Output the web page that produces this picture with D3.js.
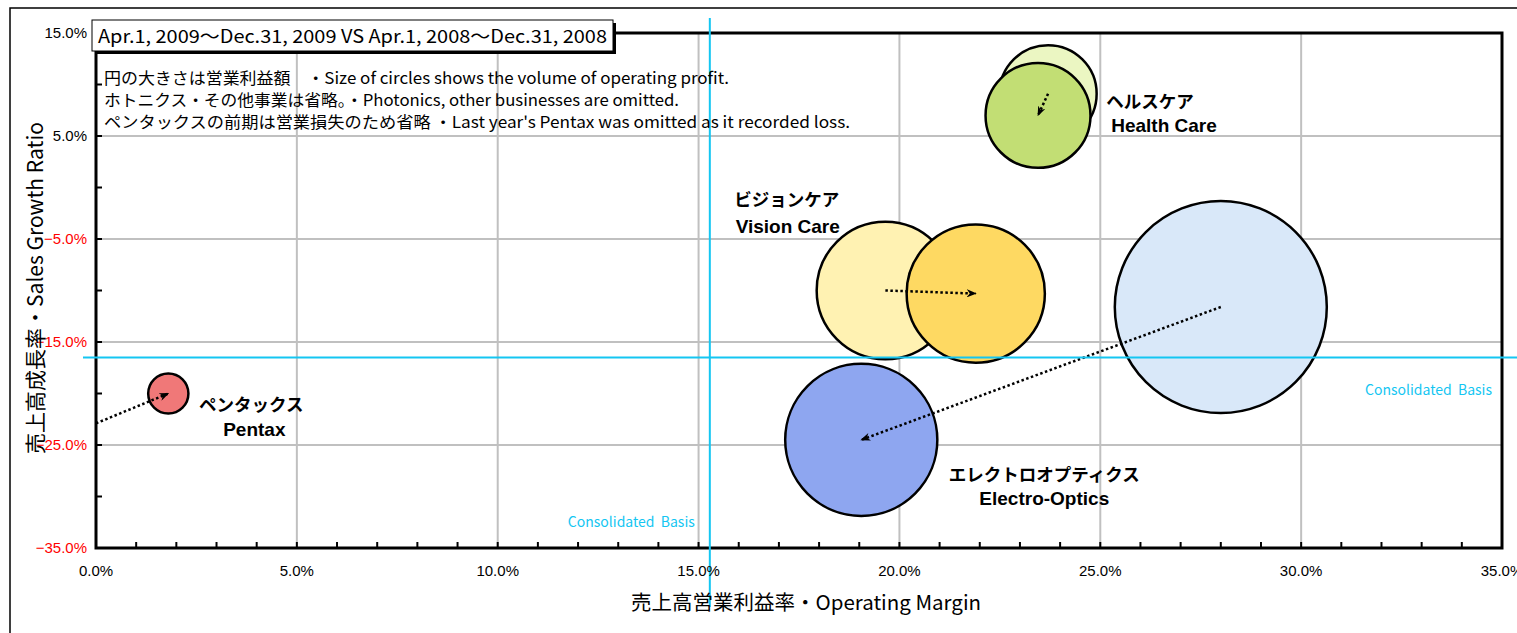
<!DOCTYPE html>
<html>
<head>
<meta charset="utf-8">
<script src="https://cdn.jsdelivr.net/npm/d3@7"></script>
<style>
  body { margin: 0; background: #fff; }
  svg { display: block; }
  text { font-family: "Noto Sans CJK JP", "Noto Sans", sans-serif; }
  .tick-lbl { font-family: "Liberation Sans Narrow", "Liberation Sans", sans-serif; font-size: 15px; }
</style>
</head>
<body>
<svg id="chart" width="1517" height="633"></svg>
<script>
// segments
var segJa = ['ヘルスケア', 'ビジョンケア', 'ペンタックス', 'エレクトロオプティクス'];
var segEn = ['Health Care', 'Vision Care', 'Pentax', 'Electro-Optics'];
// previous period (Apr-Dec 2008)
var marginPrev = [23.7, 19.65, null, 28.0];
var growthPrev = [9.1, -10.0, null, -11.6];
var profitPrev = [21, 42, null, 100];
// current period (Apr-Dec 2009)
var marginCur = [23.45, 21.9, 1.8, 19.05];
var growthCur = [7.0, -10.3, -20.0, -24.5];
var profitCur = [24.5, 42.5, 3.6, 51.5];
// pentax arrow comes in from off chart (last year was a loss)
var pentaxFrom = [0.0, -22.9];
// consolidated basis
var consMargin = 15.28;
var consGrowth = -16.5;
// axis ticks
var xTicks = [0, 5, 10, 15, 20, 25, 30, 35];
var yTicks = [15, 5, -5, -15, -25, -35];

function drawChart(){
    var svg = d3.select('#chart');
    var pl = 96, pr = 1502, pt = 33, pb = 548;

    var x = d3.scaleLinear().domain([0, 35]).range([pl, pr]);
    var y = d3.scaleLinear().domain([-35, 15]).range([pb, pt]);
    var r = d3.scaleSqrt().domain([0, 100]).range([0, 106]);

    // colours per segment: [previous, current]
    var cols = [
        ['#ebf6c2', '#c2de74'],  // health care
        ['#fff2b2', '#fed962'],  // vision care
        [null, '#f07878'],       // pentax
        ['#d9e8f9', '#8ea6f0']   // electro-optics
    ];
    var defs = svg.append('defs');
    defs.append('marker')
        .attr('id', 'arrow')
        .attr('viewBox', '0 0 10 8')
        .attr('refX', 9).attr('refY', 4)
        .attr('markerWidth', 10).attr('markerHeight', 8)
        .attr('markerUnits', 'userSpaceOnUse')
        .attr('orient', 'auto')
      .append('path')
        .attr('d', 'M0,0 L10,4 L0,8 L3,4 z')
        .attr('fill', '#000');

    // outer border
    svg.append('path')
        .attr('d', 'M10,633 L10,8 L1517,8')
        .attr('fill', 'none').attr('stroke', '#000').attr('stroke-width', 1.5);

    // grid
    var g = svg.append('g');
    g.selectAll('.vgrid').data([5, 10, 15, 20, 25, 30])
        .enter().append('line')
        .attr('x1', function(d){ return x(d); }).attr('x2', function(d){ return x(d); })
        .attr('y1', pt).attr('y2', pb)
        .attr('stroke', '#c0c0c0').attr('stroke-width', 2);
    g.selectAll('.hgrid').data([5, -5, -15, -25])
        .enter().append('line')
        .attr('x1', pl).attr('x2', pr)
        .attr('y1', function(d){ return y(d); }).attr('y2', function(d){ return y(d); })
        .attr('stroke', '#c0c0c0').attr('stroke-width', 2);

    // minor ticks
    g.selectAll('.xt').data(d3.range(0, 36, 1))
        .enter().append('line')
        .attr('x1', function(d){ return x(d); }).attr('x2', function(d){ return x(d); })
        .attr('y1', pb).attr('y2', pb - 6)
        .attr('stroke', '#000').attr('stroke-width', 2);
    g.selectAll('.yt').data(d3.range(-35, 16, 5))
        .enter().append('line')
        .attr('x1', pl).attr('x2', pl + 6)
        .attr('y1', function(d){ return y(d); }).attr('y2', function(d){ return y(d); })
        .attr('stroke', '#000').attr('stroke-width', 2);

    // bubbles, previous first then current
    var bubbles = [];
    for (var i = 0; i < segJa.length; i++){
        if (marginPrev[i] != null)
            bubbles.push({x: marginPrev[i], y: growthPrev[i], p: profitPrev[i], c: cols[i][0]});
    }
    for (var i = 0; i < segJa.length; i++){
        bubbles.push({x: marginCur[i], y: growthCur[i], p: profitCur[i], c: cols[i][1]});
    }
    svg.append('g').selectAll('circle').data(bubbles)
        .enter().append('circle')
        .attr('cx', function(d){ return x(d.x); })
        .attr('cy', function(d){ return y(d.y); })
        .attr('r', function(d){ return r(d.p); })
        .attr('fill', function(d){ return d.c; })
        .attr('stroke', '#000').attr('stroke-width', 2.5);

    // arrows
    var arrows = [];
    for (var i = 0; i < segJa.length; i++){
        var from = marginPrev[i] != null ? [marginPrev[i], growthPrev[i]] : pentaxFrom;
        arrows.push([from, [marginCur[i], growthCur[i]]]);
    }
    svg.append('g').selectAll('line').data(arrows)
        .enter().append('line')
        .attr('x1', function(d){ return x(d[0][0]); })
        .attr('y1', function(d){ return y(d[0][1]); })
        .attr('x2', function(d){ return x(d[1][0]); })
        .attr('y2', function(d){ return y(d[1][1]); })
        .attr('stroke', '#000').attr('stroke-width', 2.5)
        .attr('stroke-dasharray', '2.5,2.5')
        .attr('marker-end', 'url(#arrow)');

    // frame
    svg.append('rect')
        .attr('x', pl).attr('y', pt)
        .attr('width', pr - pl).attr('height', pb - pt)
        .attr('fill', 'none').attr('stroke', '#000').attr('stroke-width', 3);

    // consolidated lines
    var cyan = '#14c6f2';
    svg.append('line')
        .attr('x1', x(consMargin)).attr('x2', x(consMargin))
        .attr('y1', 18).attr('y2', 607)
        .attr('stroke', cyan).attr('stroke-width', 2);
    svg.append('line')
        .attr('x1', 83).attr('x2', 1517)
        .attr('y1', y(consGrowth)).attr('y2', y(consGrowth))
        .attr('stroke', cyan).attr('stroke-width', 2);
    svg.append('text')
        .attr('x', x(consMargin) - 15).attr('y', pb - 21)
        .attr('text-anchor', 'end').attr('fill', cyan)
        .style('font-size', '14px').style('white-space', 'pre')
        .text('Consolidated  Basis');
    svg.append('text')
        .attr('x', pr - 10).attr('y', y(consGrowth) + 38)
        .attr('text-anchor', 'end').attr('fill', cyan)
        .style('font-size', '14px').style('white-space', 'pre')
        .text('Consolidated  Basis');

    // segment labels, offsets from the current bubble
    var lblOff = [[112, -7, 126, 17], [-189, -88, -188, -61], [83, 17, 86, 42], [183, 41, 183, 65]];
    for (var i = 0; i < segJa.length; i++){
        var cx = x(marginCur[i]), cy = y(growthCur[i]);
        svg.append('text')
            .attr('x', cx + lblOff[i][0]).attr('y', cy + lblOff[i][1])
            .attr('text-anchor', 'middle')
            .style('font-size', '17.5px').style('font-weight', 'bold')
            .text(segJa[i]);
        svg.append('text')
            .attr('x', cx + lblOff[i][2]).attr('y', cy + lblOff[i][3])
            .attr('text-anchor', 'middle')
            .style('font-family', '"Liberation Sans", Arial, sans-serif')
            .style('font-size', '19px').style('font-weight', 'bold')
            .text(segEn[i]);
    }

    // tick labels
    svg.selectAll('.xl').data(xTicks)
        .enter().append('text')
        .attr('class', 'tick-lbl')
        .attr('x', function(d){ return x(d); })
        .attr('y', pb + 28)
        .attr('text-anchor', 'middle')
        .text(function(d){ return d.toFixed(1) + '%'; });
    svg.selectAll('.yl').data(yTicks)
        .enter().append('text')
        .attr('class', 'tick-lbl')
        .attr('x', pl - 9)
        .attr('y', function(d){ return y(d) + 5; })
        .attr('text-anchor', 'end')
        .attr('fill', function(d){ return d < 0 ? '#ff0000' : '#000'; })
        .text(function(d){ return (d < 0 ? '\u2212' + Math.abs(d).toFixed(1) : d.toFixed(1)) + '%'; });

    // axis titles
    svg.append('text')
        .attr('x', 806).attr('y', 610)
        .attr('text-anchor', 'middle')
        .style('font-size', '20.5px')
        .text('売上高営業利益率・Operating Margin');
    svg.append('text')
        .attr('transform', 'translate(43,288) rotate(-90)')
        .attr('text-anchor', 'middle')
        .style('font-size', '21px')
        .text('売上高成長率・Sales Growth Ratio');

    // notes
    var notes = [
        '円の大きさは営業利益額　・Size of circles shows the volume of operating profit.',
        'ホトニクス・その他事業は省略。・Photonics, other businesses are omitted.',
        'ペンタックスの前期は営業損失のため省略 ・Last year\'s Pentax was omitted as it recorded loss.'
    ];
    var noteW = [625, 575, 746];
    svg.selectAll('.note').data(notes)
        .enter().append('text')
        .attr('x', 104)
        .attr('y', function(d, i){ return 84 + i * 22; })
        .attr('textLength', function(d, i){ return noteW[i]; })
        .attr('lengthAdjust', 'spacingAndGlyphs')
        .style('font-size', '16px')
        .text(function(d){ return d; });

    // title box with shadow
    svg.append('rect').attr('x', 95).attr('y', 23).attr('width', 521).attr('height', 31).attr('fill', '#000');
    svg.append('rect').attr('x', 92).attr('y', 20).attr('width', 521).attr('height', 31)
        .attr('fill', '#fff').attr('stroke', '#000').attr('stroke-width', 1);
    svg.append('text')
        .attr('x', 98).attr('y', 43)
        .attr('textLength', 509)
        .attr('lengthAdjust', 'spacingAndGlyphs')
        .style('font-size', '18px')
        .text('Apr.1, 2009～Dec.31, 2009 VS Apr.1, 2008～Dec.31, 2008');
}

drawChart();
</script>
</body>
</html>
